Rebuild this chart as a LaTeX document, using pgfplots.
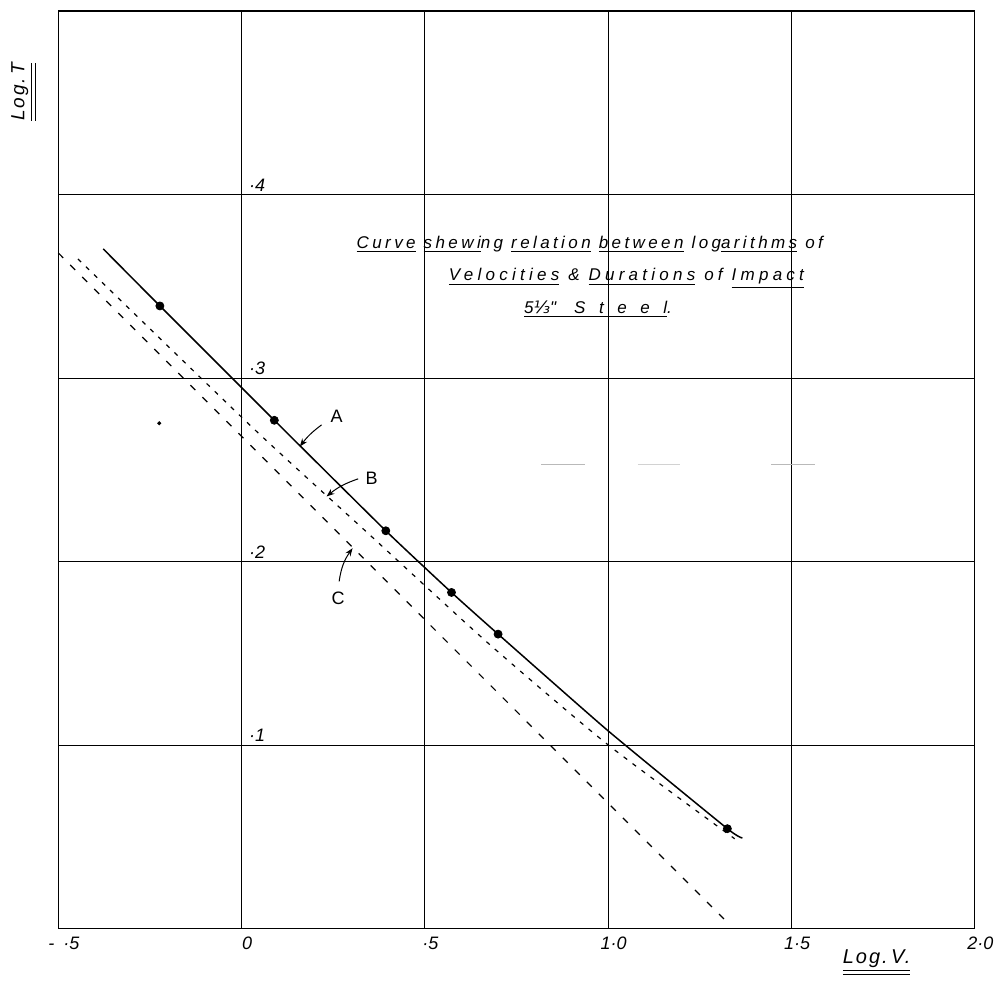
\documentclass[border=0pt]{standalone}
\usepackage{fontspec}
\setmainfont{Liberation Sans}
\newfontfamily\djv{DejaVu Sans}
\usepackage{pgfplots}
\pgfplotsset{compat=1.18}
\usetikzlibrary{arrows.meta}
\begin{document}
\begin{tikzpicture}
\begin{axis}[
  scale only axis, width=458.35pt, height=459pt,
  at={(0,0)}, anchor=south west,
  xmin=-0.5, xmax=2, ymin=0, ymax=0.5,
  xtick={-0.5,0,0.5,1,1.5,2}, ytick={0.1,0.2,0.3,0.4},
  xticklabels={{-\,\,\,·5}, 0, ·5, 1·0, 1·5, 2·0},
  yticklabels={},
  grid=major, major grid style={black, line width=0.55pt},
  axis line style={black, line width=0.6pt},
  major tick length=0pt,
  xticklabel style={anchor=north, inner sep=0pt, yshift=-4pt, xshift=2.8pt,
     font=\itshape\fontsize{9}{10}\selectfont},
  clip=false,
]
% curve A (solid) and observed points
\addplot[black, line width=0.75pt, smooth, tension=0.3] coordinates {
 (-0.3774,0.3704) (-0.2228,0.3393) (0.0894,0.2770) (0.3935,0.2168)
 (0.5727,0.1832) (0.6998,0.1605) (1.0,0.1078) (1.3253,0.0545) (1.3662,0.0494)};
\addplot[only marks, mark=*, mark size=2pt, black] coordinates {
 (-0.2228,0.3393) (0.0894,0.2770) (0.3935,0.2168)
 (0.5727,0.1832) (0.6998,0.1605) (1.3253,0.0545)};
% curve B (fine dashes)
\addplot[black, line width=0.6pt, dash pattern=on 2.2pt off 3.4pt, smooth, tension=0.4] coordinates {
 (-0.4464,0.3649) (0.0316,0.2727) (0.3501,0.2145) (0.6725,0.1556)
 (0.9997,0.1002) (1.3452,0.0490)};
% curve C (dashed straight)
\addplot[black, line width=0.6pt, dash pattern=on 3.5pt off 5pt] coordinates {
 (-0.5001,0.3682) (1.3205,0.0044)};
% faint stray marks of the original sheet
\addplot[gray!55, line width=0.6pt, forget plot] coordinates {(0.818,0.2531) (0.936,0.2531)};
\addplot[gray!35, line width=0.6pt, forget plot] coordinates {(1.081,0.2531) (1.195,0.2531)};
\addplot[gray!55, line width=0.6pt, forget plot] coordinates {(1.445,0.2531) (1.563,0.2531)};
\addplot[only marks, mark=*, mark size=0.8pt, black, forget plot] coordinates {(-0.2247,0.2754)};

% y tick labels inside the chart, beside the zero line
\foreach \v/\t in {0.4/·4, 0.3/·3, 0.2/·2, 0.1/·1}{
  \edef\tmp{\noexpand\node[anchor=south west, inner sep=0pt, xshift=3.6pt, yshift=1.5pt,
     font=\noexpand\itshape\noexpand\fontsize{9}{10}\noexpand\selectfont] at (axis cs:0,\v) {\t};}
  \tmp
}

% curve labels with arrows
\node[font=\fontsize{9}{10}\selectfont] at (axis cs:0.2590,0.2794) {A};
\draw[line width=0.5pt, -{Stealth[length=4pt,width=3pt]}] (axis cs:0.2182,0.2745) to[bend right=8] (axis cs:0.1590,0.2627);
\node[font=\fontsize{9}{10}\selectfont] at (axis cs:0.3545,0.2455) {B};
\draw[line width=0.5pt, -{Stealth[length=4pt,width=3pt]}] (axis cs:0.318,0.2451) to[bend right=10] (axis cs:0.2318,0.2355);
\node[font=\fontsize{9}{10}\selectfont] at (axis cs:0.2634,0.1801) {C};
\draw[line width=0.5pt, -{Stealth[length=4pt,width=3pt]}] (axis cs:0.2662,0.1892) to[out=82,in=235] (axis cs:0.3027,0.2073);

% title
\node[anchor=base, font=\itshape\fontsize{8.5}{10}\selectfont\addfontfeature{LetterSpace=20}] at (axis cs:0.950,0.3708)
  {\underline{Curve} \underline{shewi}ng \underline{relation} \underline{between} log\underline{arithms} of};
\node[anchor=base, font=\itshape\fontsize{8.5}{10}\selectfont\addfontfeature{LetterSpace=25}] at (axis cs:1.050,0.3529)
  {\underline{Velocities} \& \underline{Durations} of \underline{Impact}};
\node[anchor=base, font=\itshape\fontsize{8.5}{10}\selectfont\addfontfeature{LetterSpace=80}] at (axis cs:0.9725,0.3350)
  {\underline{5{\djv ⅓}\textquotedbl{}\hspace{9pt}Steel}.};

% axis labels
\node[font=\itshape\fontsize{10}{12}\selectfont\addfontfeature{LetterSpace=10}] at (axis cs:1.7325,-0.0185)
  {\underline{\underline{Log.\,V.}}};
\node[rotate=90, font=\itshape\fontsize{9.5}{12}\selectfont\addfontfeature{LetterSpace=10}] at (axis cs:-0.5937,0.4559)
  {\underline{\underline{Log.\,T}}};
\end{axis}
\path[use as bounding box] (-29.15pt,-30pt) rectangle (469.5pt,464.5pt);
\end{tikzpicture}
\end{document}
